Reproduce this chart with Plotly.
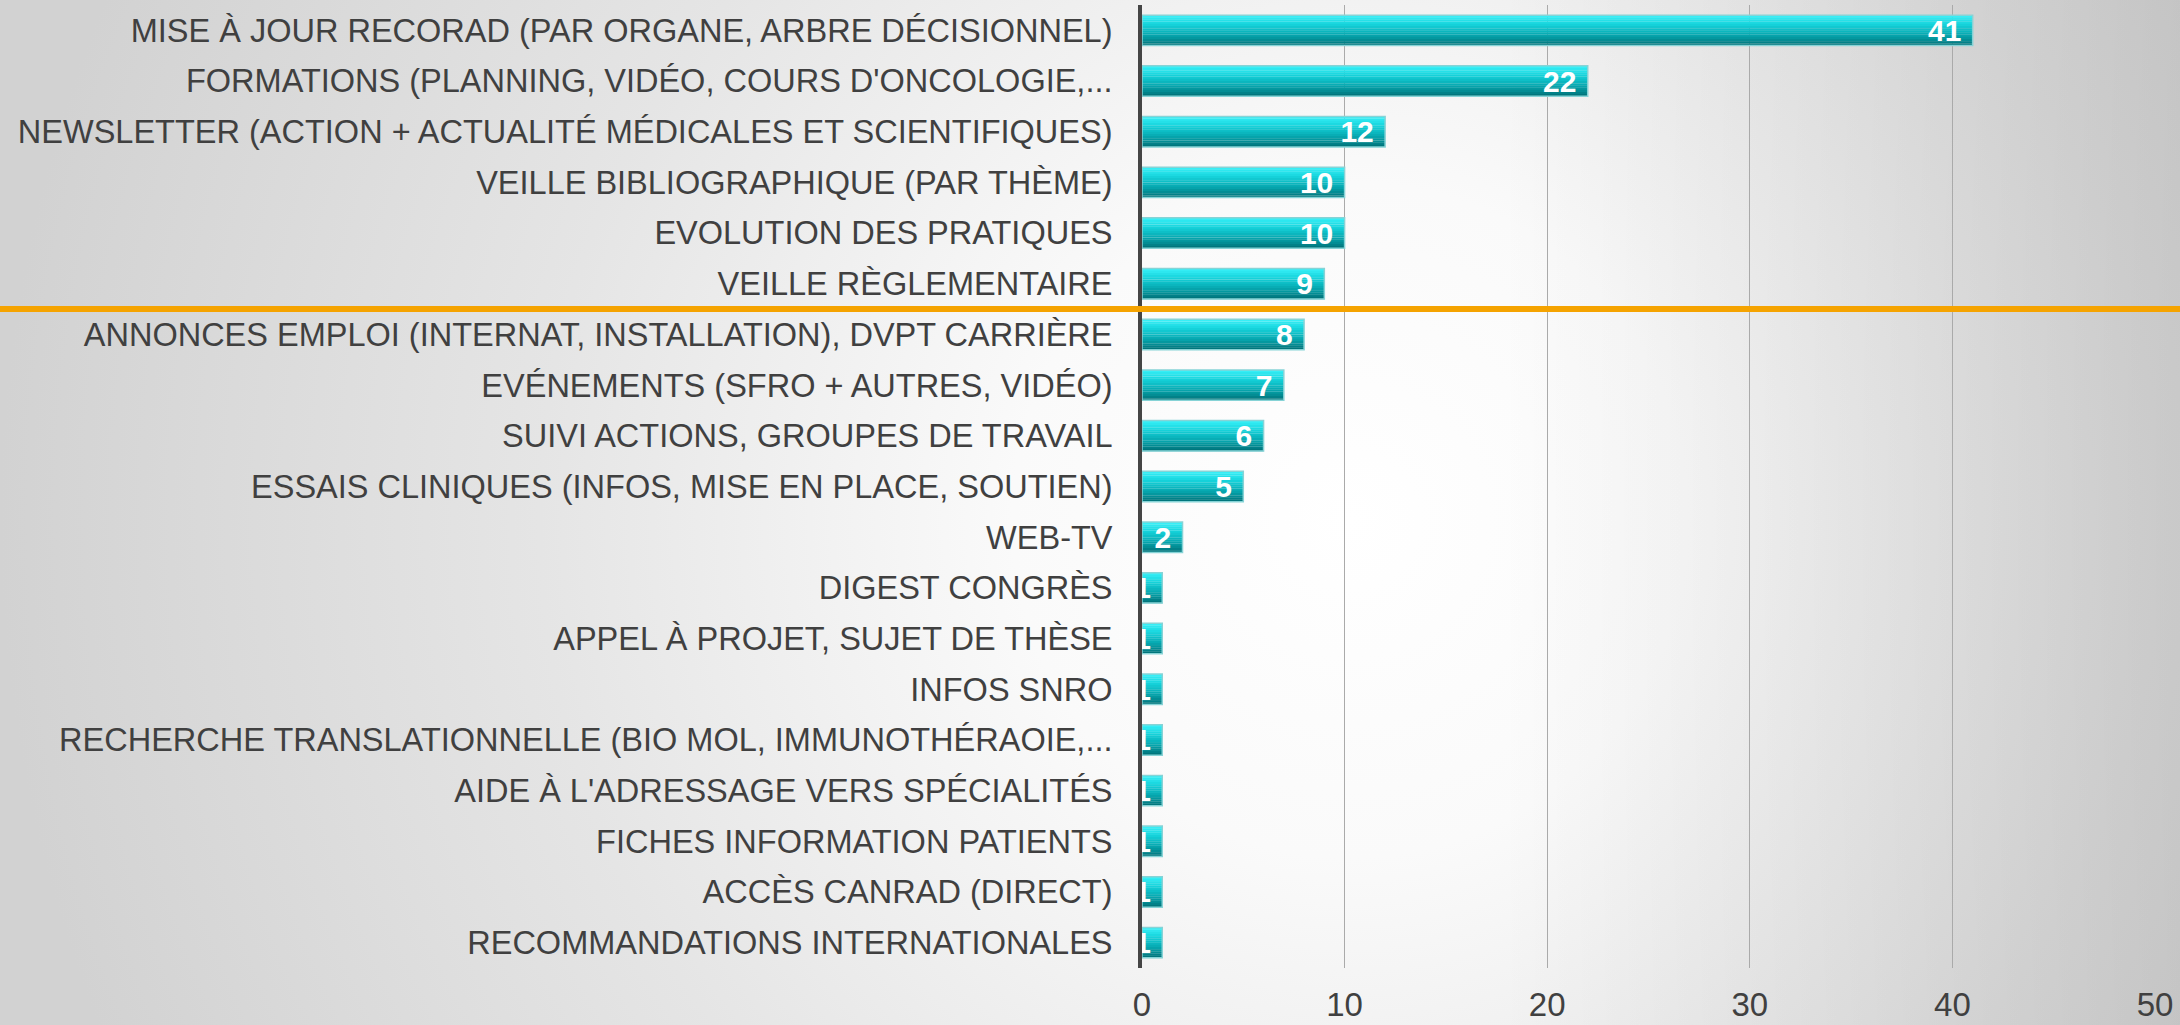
import base64
import plotly.graph_objects as go

categories = [
    "MISE À JOUR RECORAD (PAR ORGANE, ARBRE DÉCISIONNEL)",
    "FORMATIONS (PLANNING, VIDÉO, COURS D'ONCOLOGIE,...",
    "NEWSLETTER (ACTION + ACTUALITÉ MÉDICALES ET SCIENTIFIQUES)",
    "VEILLE BIBLIOGRAPHIQUE (PAR THÈME)",
    "EVOLUTION DES PRATIQUES",
    "VEILLE RÈGLEMENTAIRE",
    "ANNONCES EMPLOI (INTERNAT, INSTALLATION), DVPT CARRIÈRE",
    "EVÉNEMENTS (SFRO + AUTRES, VIDÉO)",
    "SUIVI ACTIONS, GROUPES DE TRAVAIL",
    "ESSAIS CLINIQUES (INFOS, MISE EN PLACE, SOUTIEN)",
    "WEB-TV",
    "DIGEST CONGRÈS",
    "APPEL À PROJET, SUJET DE THÈSE",
    "INFOS SNRO",
    "RECHERCHE TRANSLATIONNELLE (BIO MOL, IMMUNOTHÉRAOIE,...",
    "AIDE À L'ADRESSAGE VERS SPÉCIALITÉS",
    "FICHES INFORMATION PATIENTS",
    "ACCÈS CANRAD (DIRECT)",
    "RECOMMANDATIONS INTERNATIONALES",
]
counts = [41, 22, 12, 10, 10, 9, 8, 7, 6, 5, 2, 1, 1, 1, 1, 1, 1, 1, 1]
x_ticks = [0, 10, 20, 30, 40, 50]
split_after = 5  # orange separator between rows 6 and 7

W, H = 2180, 1025
ML, MR, MT, MB = 1142, 25, 5, 57
PW, PH = W - ML - MR, H - MT - MB
BAR_W = 0.6

# grey background: white glow in the middle, darker to the right
svg = f'''<svg xmlns="http://www.w3.org/2000/svg" width="{W}" height="{H}" viewBox="0 0 {W} {H}" preserveAspectRatio="none">
<defs>
<radialGradient id="g" gradientUnits="userSpaceOnUse" cx="1350" cy="520" r="1350">
<stop offset="0" stop-color="#ffffff"/><stop offset="0.25" stop-color="#fafafa"/>
<stop offset="0.6" stop-color="#e5e5e5"/><stop offset="1" stop-color="#d2d2d2"/>
</radialGradient>
<linearGradient id="d" gradientUnits="userSpaceOnUse" x1="1500" y1="0" x2="{W}" y2="0">
<stop offset="0" stop-color="#000" stop-opacity="0"/><stop offset="1" stop-color="#000" stop-opacity="0.12"/>
</linearGradient>
</defs>
<rect width="{W}" height="{H}" fill="url(#g)"/><rect width="{W}" height="{H}" fill="url(#d)"/></svg>'''
bg_src = "data:image/svg+xml;base64," + base64.b64encode(svg.encode()).decode()

# vertical gradient of the bars, top -> bottom
stops = [(0.0, (58, 242, 250)), (0.3, (22, 212, 220)), (0.65, (6, 168, 176)), (1.0, (0, 112, 118))]


def grad(t):
    for (t0, c0), (t1, c1) in zip(stops, stops[1:]):
        if t <= t1:
            f = (t - t0) / (t1 - t0)
            return "rgb(%d,%d,%d)" % tuple(round(a + (b - a) * f) for a, b in zip(c0, c1))
    return "rgb(%d,%d,%d)" % stops[-1][1]


fig = go.Figure()
N = 14
for k in range(N):
    fig.add_trace(go.Bar(
        x=counts, y=categories, orientation="h",
        width=BAR_W / N * 1.08, offset=-BAR_W / 2 + k * BAR_W / N,
        marker=dict(color=grad((k + 0.5) / N), line=dict(width=0)),
        hoverinfo="skip", showlegend=False,
    ))

fig.add_trace(go.Bar(
    x=counts, y=categories, orientation="h", width=BAR_W, offset=-BAR_W / 2,
    marker=dict(color="rgba(0,0,0,0)", line=dict(color="#86d3d6", width=1.5)),
    text=counts, texttemplate="%{text}\u00a0", textposition="inside",
    insidetextanchor="end", textangle=0, constraintext="none",
    textfont=dict(family="Liberation Sans, Arial", size=30, color="white", weight="bold"),
    hoverinfo="skip", showlegend=False,
))

fig.update_layout(
    width=W, height=H,
    margin=dict(l=ML, r=MR, t=MT, b=MB),
    paper_bgcolor="#e0e0e0", plot_bgcolor="rgba(0,0,0,0)",
    barmode="overlay",
    font=dict(family="Liberation Sans, Arial", color="#404040"),
    images=[dict(source=bg_src, xref="paper", yref="paper",
                 x=-ML / PW, y=1 + MT / PH, sizex=W / PW, sizey=H / PH,
                 xanchor="left", yanchor="top", sizing="stretch", layer="below")],
    shapes=[dict(type="line", xref="paper", yref="y",
                 x0=-ML / PW, x1=1 + MR / PW, y0=split_after + 0.5, y1=split_after + 0.5,
                 line=dict(color="#f5a300", width=6), layer="above")],
)
fig.update_xaxes(range=[0, 50], tickvals=x_ticks, showgrid=True, gridcolor="#aaaaaa",
                 gridwidth=1.3, zeroline=False, showline=False, automargin=False,
                 tickfont=dict(size=33, color="#404040"), ticklabelstandoff=14)
fig.update_yaxes(autorange="reversed", showgrid=False, showline=True, linecolor="#454545",
                 linewidth=4, automargin=False, tickfont=dict(size=32.5, color="#404040"),
                 ticklabelstandoff=19)

# page has an 8px default body margin; drop it so the figure fills the window
fig.write_html("out.html", config={"displayModeBar": False},
               post_script="document.body.style.margin='0';")
